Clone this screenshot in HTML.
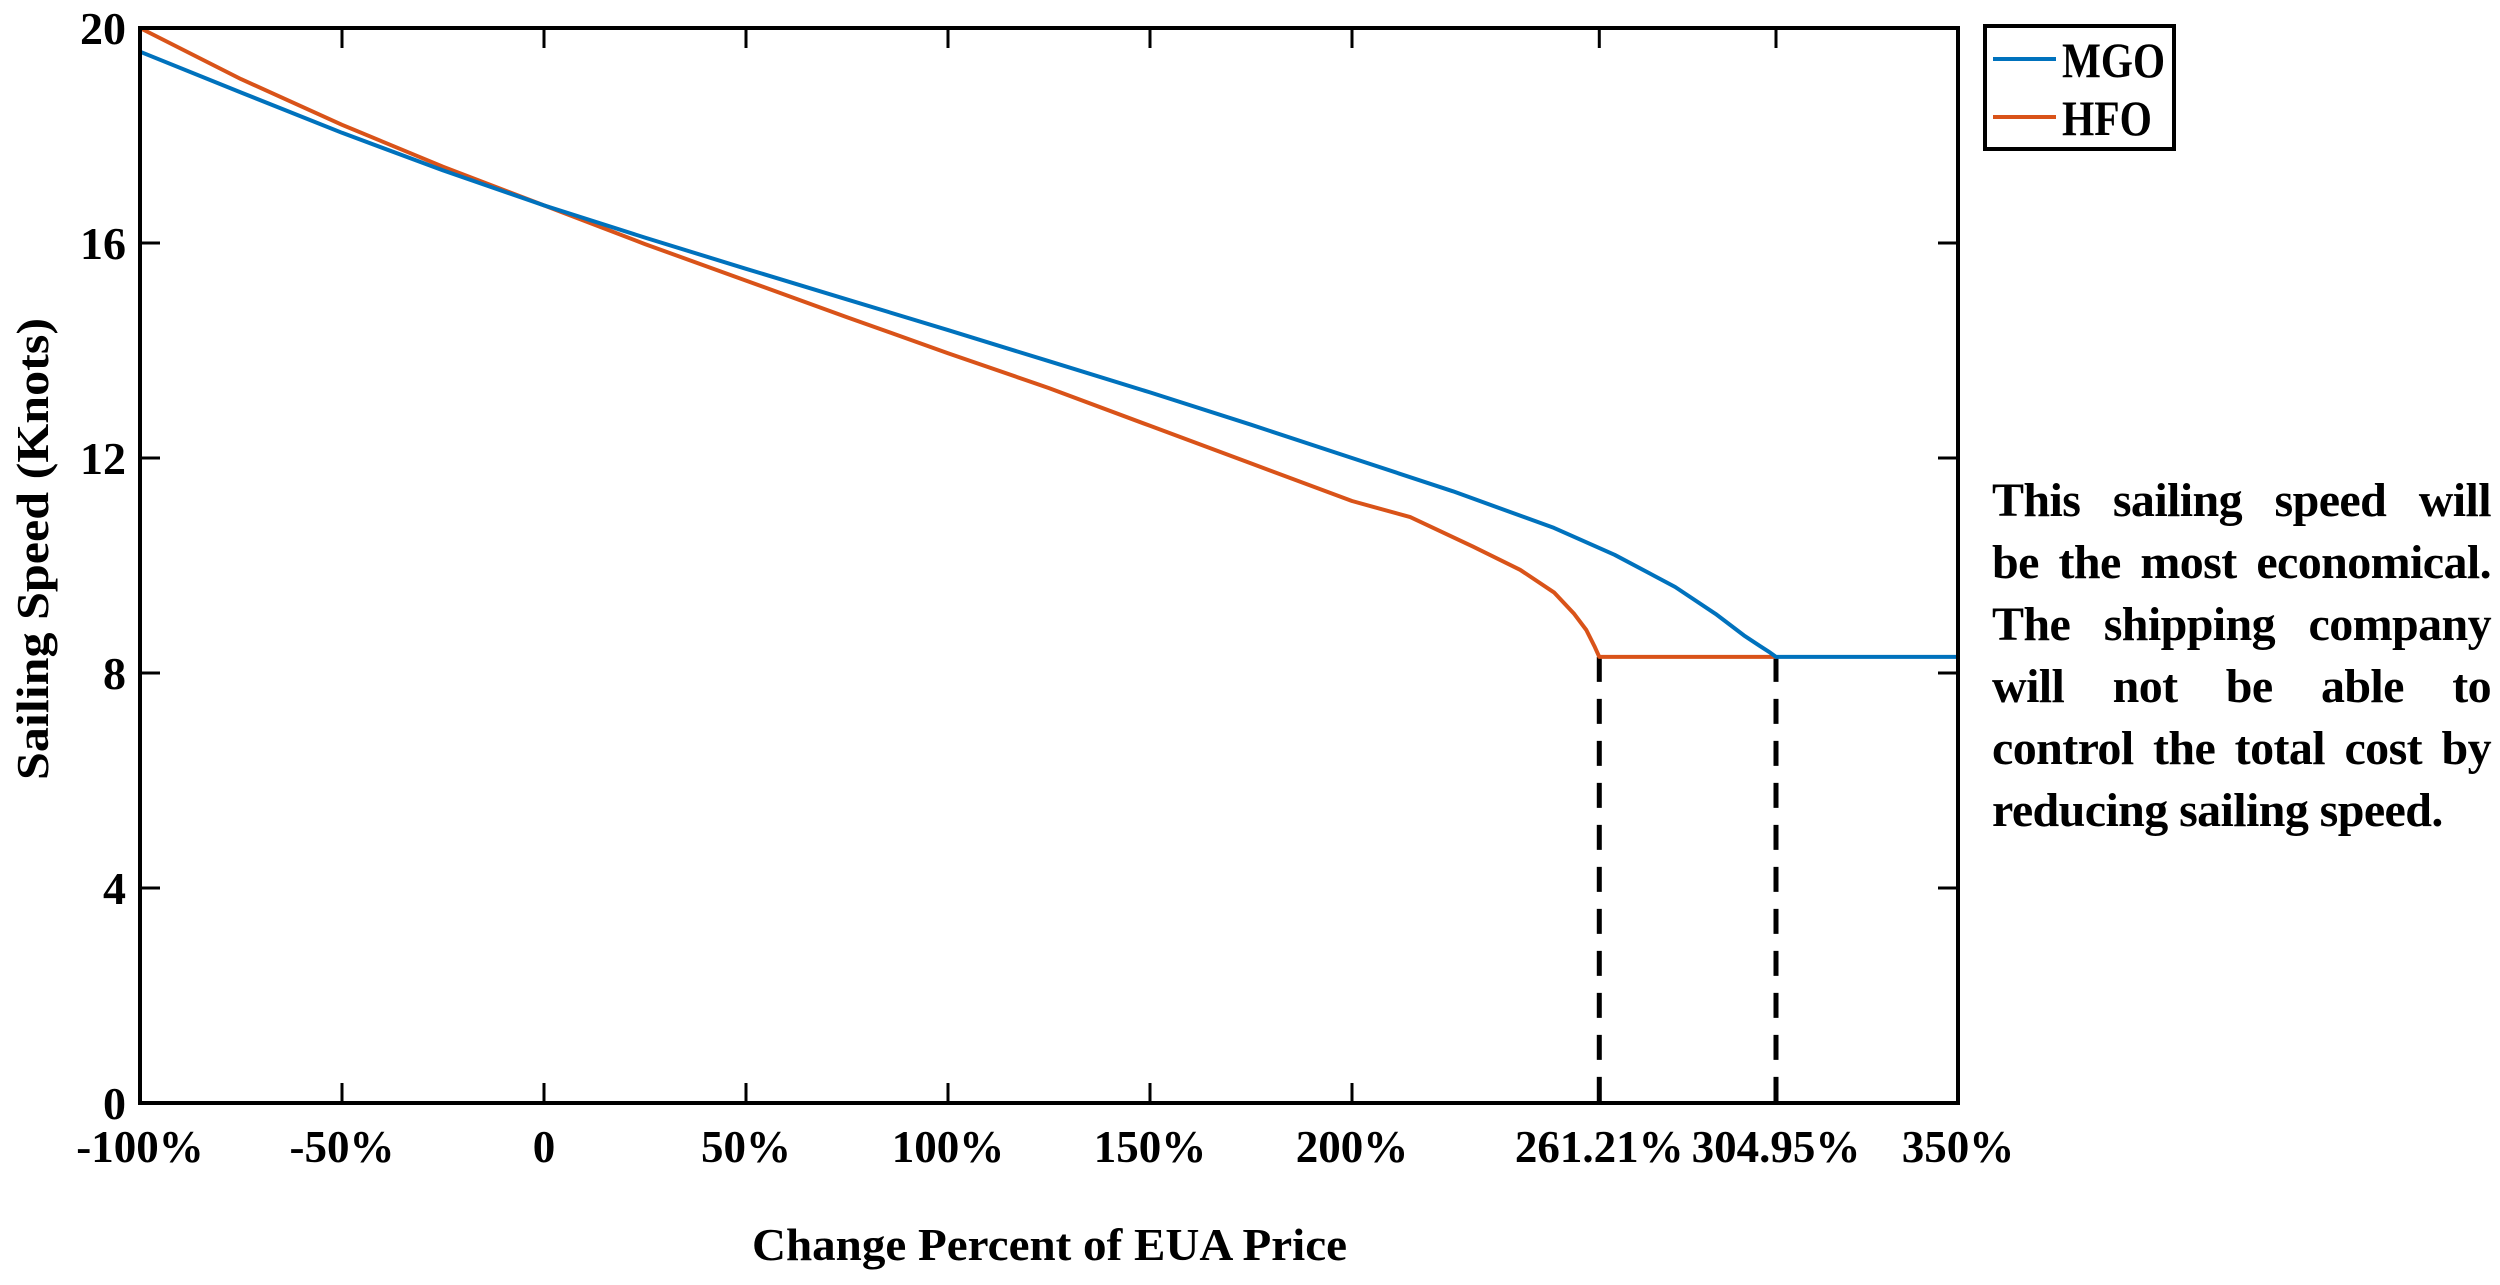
<!DOCTYPE html>
<html><head><meta charset="utf-8"><style>
body{margin:0;background:#fff;}
svg{display:block;font-family:"Liberation Serif",serif;font-weight:bold;}
.ann{position:absolute;left:1992px;top:470px;width:499px;font:bold 48px/62px "Liberation Serif",serif;color:#000;letter-spacing:-0.6px;}
.ann span{display:block;text-align:justify;text-align-last:justify;white-space:nowrap;}
.ann span.last{text-align-last:left;}
</style></head><body>
<div style="position:relative;width:2500px;height:1285px;overflow:hidden">
<svg id="chart" width="2500" height="1285"></svg>
<div class="ann"><span>This sailing speed will</span><span>be the most economical.</span><span>The shipping company</span><span>will not be able to</span><span>control the total cost by</span><span class="last">reducing sailing speed.</span></div>
</div>
<script>
const mgoX=[-100,-75,-50,-25,0,25,50,75,100,125,150,175,200,225,250,265,280,290,297,301,303.5,304.95,320,350];
const mgoY=[19.56,18.8,18.05,17.35,16.7,16.1,15.52,14.95,14.38,13.8,13.22,12.62,12.0,11.38,10.7,10.2,9.6,9.1,8.7,8.5,8.38,8.3,8.3,8.3];
const hfoX=[-100,-75,-50,-25,0,25,50,75,100,125,150,175,200,214.4,230,241.6,250,255,258,260,261.21,280,304.95];
const hfoY=[20.0,19.05,18.2,17.42,16.7,15.98,15.3,14.62,13.95,13.3,12.6,11.9,11.2,10.9,10.35,9.92,9.5,9.1,8.8,8.5,8.3,8.3,8.3];
const xTicks=[-100,-50,0,50,100,150,200,261.21,304.95,350];
const xTickLabels=["-100%","-50%","0","50%","100%","150%","200%","261.21%","304.95%","350%"];
const yTicks=[0,4,8,12,16,20];
const yTickLabels=["0","4","8","12","16","20"];
const dropX=[261.21,304.95];
const dropY=[8.3,8.3];
const L=140,R=1958,T=28,B=1103;
const sx=v=>L+(v+100)/450*(R-L);
const sy=v=>B-v/20*(B-T);
const svg=document.getElementById('chart');
const NS='http://www.w3.org/2000/svg';
function mk(tag,attrs){const e=document.createElementNS(NS,tag);for(const k in attrs)e.setAttribute(k,attrs[k]);svg.appendChild(e);return e;}
dropX.forEach((x,i)=>{const e=mk('line',{x1:sx(x),x2:sx(x),y1:sy(dropY[i]),y2:B,stroke:'#000','stroke-width':5,'stroke-dasharray':'25,17'});

});
function series(xs,ys,color,name){const d=xs.map((x,i)=>(i?'L':'M')+sx(x).toFixed(1)+','+sy(ys[i]).toFixed(1)).join(' ');
const e=mk('path',{d:d,fill:'none',stroke:color,'stroke-width':4,'stroke-linejoin':'round'});

}
series(hfoX,hfoY,'#D95319','hfo-line');
series(mgoX,mgoY,'#0072BD','mgo-line');
const box=mk('rect',{x:L,y:T,width:R-L,height:B-T,fill:'none',stroke:'#000','stroke-width':4});


xTicks.forEach((v,i)=>{const x=sx(v);
mk('line',{x1:x,x2:x,y1:B,y2:B-20,stroke:'#000','stroke-width':3});
mk('line',{x1:x,x2:x,y1:T,y2:T+20,stroke:'#000','stroke-width':3});
const t=mk('text',{x:x,y:1162,'font-size':45,'text-anchor':'middle'});t.textContent=xTickLabels[i];

});
yTicks.forEach((v,i)=>{const y=sy(v);
mk('line',{x1:L,x2:L+20,y1:y,y2:y,stroke:'#000','stroke-width':3});
mk('line',{x1:R,x2:R-20,y1:y,y2:y,stroke:'#000','stroke-width':3});
const t=mk('text',{x:126,y:y+16,'font-size':46,'text-anchor':'end'});t.textContent=yTickLabels[i];

});
const xt=mk('text',{x:752,y:1260,'font-size':46,textLength:595,lengthAdjust:'spacingAndGlyphs'});xt.textContent='Change Percent of EUA Price';


const yt=mk('text',{x:-231,y:0,'font-size':46,textLength:462,lengthAdjust:'spacingAndGlyphs',transform:'translate(48,549) rotate(-90)'});yt.textContent='Sailing Speed (Knots)';


const lg=mk('rect',{x:1985,y:26,width:189,height:123,fill:'#fff',stroke:'#000','stroke-width':4});


[['MGO','#0072BD',59],['HFO','#D95319',117]].forEach(([n,c,y])=>{
mk('line',{x1:1993,x2:2056,y1:y,y2:y,stroke:c,'stroke-width':4});
const t=mk('text',{x:2062,y:y+18,'font-size':50,textLength:n==='MGO'?103:90,lengthAdjust:'spacingAndGlyphs'});t.textContent=n;

});
</script>
</body></html>
